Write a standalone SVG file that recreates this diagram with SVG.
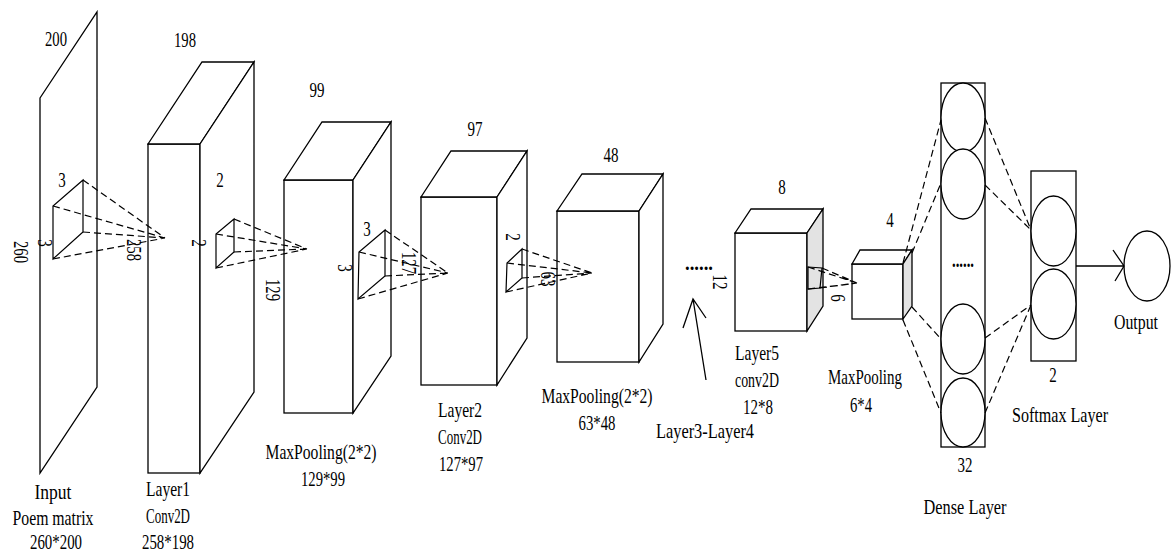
<svg xmlns="http://www.w3.org/2000/svg" width="1172" height="554" viewBox="0 0 1172 554">
<style>
.s{fill:#fff;stroke:#000;stroke-width:1.3;stroke-linejoin:miter}
.g{fill:#e3e3e3;stroke:#000;stroke-width:1.3}
.k{fill:none;stroke:#000;stroke-width:1.2}
.d{fill:none;stroke:#000;stroke-width:1.2;stroke-dasharray:7 4}
.l{fill:none;stroke:#000;stroke-width:1.3}
text{font-family:"Liberation Serif","DejaVu Serif",serif;font-size:22px;fill:#000;text-anchor:middle}
</style>
<rect width="1172" height="554" fill="#fff"/>

<g id="input">
<polygon class="s" points="40,98 97,12 97,387 40,473"/>
<text x="56" y="46" textLength="22" lengthAdjust="spacingAndGlyphs">200</text>
<text transform="translate(21,252) rotate(90)" x="0" y="7" textLength="22" lengthAdjust="spacingAndGlyphs">260</text>
<text x="53" y="499" textLength="37" lengthAdjust="spacingAndGlyphs">Input</text>
<text x="53" y="525" textLength="81" lengthAdjust="spacingAndGlyphs">Poem matrix</text>
<text x="56" y="549" textLength="52" lengthAdjust="spacingAndGlyphs">260*200</text>
</g>

<g id="layer1">
<rect class="s" x="148" y="144" width="52" height="329"/>
<polygon class="s" points="148,144 202,62 254,62 200,144"/>
<polygon class="s" points="200,144 254,62 254,392 200,473"/>
<text x="185" y="47" textLength="22" lengthAdjust="spacingAndGlyphs">198</text>
<text x="168" y="496" textLength="44" lengthAdjust="spacingAndGlyphs">Layer1</text>
<text x="168" y="523" textLength="44" lengthAdjust="spacingAndGlyphs">Conv2D</text>
<text x="168" y="549" textLength="52" lengthAdjust="spacingAndGlyphs">258*198</text>
</g>

<g id="maxpool1">
<rect class="s" x="284" y="180" width="69" height="233"/>
<polygon class="s" points="284,180 322,122 391,122 353,180"/>
<polygon class="s" points="353,180 391,122 391,356 353,413"/>
<text x="317" y="97" textLength="15" lengthAdjust="spacingAndGlyphs">99</text>
<text x="321" y="459" textLength="111" lengthAdjust="spacingAndGlyphs">MaxPooling(2*2)</text>
<text x="323" y="486" textLength="44" lengthAdjust="spacingAndGlyphs">129*99</text>
</g>

<g id="layer2">
<rect class="s" x="421" y="197" width="76" height="188"/>
<polygon class="s" points="421,197 451,151 527,151 497,197"/>
<polygon class="s" points="497,197 527,151 527,338 497,385"/>
<text x="475" y="136" textLength="15" lengthAdjust="spacingAndGlyphs">97</text>
<text x="460" y="417" textLength="44" lengthAdjust="spacingAndGlyphs">Layer2</text>
<text x="460" y="444" textLength="44" lengthAdjust="spacingAndGlyphs">Conv2D</text>
<text x="461" y="471" textLength="44" lengthAdjust="spacingAndGlyphs">127*97</text>
</g>

<g id="maxpool2">
<rect class="s" x="557" y="211" width="82" height="151"/>
<polygon class="s" points="557,211 582,174 663,174 639,211"/>
<polygon class="s" points="639,211 663,174 663,324 639,362"/>
<text x="611" y="162" textLength="15" lengthAdjust="spacingAndGlyphs">48</text>
<text x="597" y="403" textLength="111" lengthAdjust="spacingAndGlyphs">MaxPooling(2*2)</text>
<text x="597" y="430" textLength="37" lengthAdjust="spacingAndGlyphs">63*48</text>
</g>

<g id="layer34">
<text x="699" y="270" font-weight="bold" textLength="28" lengthAdjust="spacingAndGlyphs">......</text>
<text x="705" y="438" textLength="98" lengthAdjust="spacingAndGlyphs">Layer3-Layer4</text>
</g>

<g id="layer5">
<rect class="s" x="735" y="233" width="72" height="98"/>
<polygon class="s" points="735,233 751,209 823,209 807,233"/>
<polygon class="g" points="807,233 823,209 823,306 807,331"/>
<text x="782" y="194" textLength="7.5" lengthAdjust="spacingAndGlyphs">8</text>
<text transform="translate(720,282) rotate(90)" x="0" y="7" textLength="15" lengthAdjust="spacingAndGlyphs">12</text>
<text x="757" y="360" textLength="44" lengthAdjust="spacingAndGlyphs">Layer5</text>
<text x="757" y="387" textLength="44" lengthAdjust="spacingAndGlyphs">conv2D</text>
<text x="758" y="414" textLength="30" lengthAdjust="spacingAndGlyphs">12*8</text>
</g>

<g id="maxpool3">
<rect class="s" x="852" y="264" width="51" height="55"/>
<polygon class="s" points="852,264 860,250 912,250 903,264"/>
<polygon class="g" points="903,264 912,250 912,306 903,319"/>
<text x="890" y="227" textLength="7.5" lengthAdjust="spacingAndGlyphs">4</text>
<text x="865" y="384" textLength="74" lengthAdjust="spacingAndGlyphs">MaxPooling</text>
<text x="861" y="412" textLength="22" lengthAdjust="spacingAndGlyphs">6*4</text>
</g>

<g id="dense">
<rect class="s" x="941" y="83" width="44" height="364"/>
<ellipse class="s" cx="963" cy="117.5" rx="22" ry="34.5"/>
<ellipse class="s" cx="963" cy="184" rx="22" ry="35"/>
<ellipse class="s" cx="963" cy="339" rx="22" ry="35"/>
<ellipse class="s" cx="963" cy="412.5" rx="22" ry="34.5"/>
<text x="963" y="267" font-weight="bold" textLength="22" lengthAdjust="spacingAndGlyphs">......</text>
<text x="965" y="472" textLength="15" lengthAdjust="spacingAndGlyphs">32</text>
<text x="965" y="514" textLength="83" lengthAdjust="spacingAndGlyphs">Dense Layer</text>
</g>

<g id="softmax">
<rect class="s" x="1031" y="171" width="45" height="190"/>
<ellipse class="s" cx="1053.5" cy="231" rx="22.5" ry="35"/>
<ellipse class="s" cx="1053.5" cy="304" rx="22.5" ry="35"/>
<text x="1053" y="382" textLength="7.5" lengthAdjust="spacingAndGlyphs">2</text>
<text x="1060" y="422" textLength="96" lengthAdjust="spacingAndGlyphs">Softmax Layer</text>
</g>

<g id="output">
<ellipse class="s" cx="1147" cy="266" rx="23" ry="35"/>
<text x="1136" y="329" font-size="19" textLength="44" lengthAdjust="spacingAndGlyphs">Output</text>
</g>

<g id="kernels">
<polygon class="k" points="83,180 53,206 53,259 83,232"/>
<text x="62" y="187" textLength="7.5" lengthAdjust="spacingAndGlyphs">3</text>
<text transform="translate(45,243) rotate(90)" x="0" y="7" textLength="7.5" lengthAdjust="spacingAndGlyphs">3</text>
<polygon class="k" points="234,219 216,234 216,268 234,252"/>
<text x="220" y="187" textLength="7.5" lengthAdjust="spacingAndGlyphs">2</text>
<text transform="translate(199,243) rotate(90)" x="0" y="7" textLength="7.5" lengthAdjust="spacingAndGlyphs">2</text>
<polygon class="k" points="385,230 359,252 358,299 385,276"/>
<text x="367" y="236" textLength="7.5" lengthAdjust="spacingAndGlyphs">3</text>
<text transform="translate(345,268) rotate(90)" x="0" y="7" textLength="7.5" lengthAdjust="spacingAndGlyphs">3</text>
<polygon class="k" points="522,249 507,263 506,292 522,278"/>
<text transform="translate(513,237) rotate(90)" x="0" y="7" textLength="7.5" lengthAdjust="spacingAndGlyphs">2</text>
<polygon class="k" points="808,267 822,268 820,288 808,289"/>
</g>

<g id="connectors">
<path class="d" d="M83,180L165,238M53,206L165,238M83,232L165,238M53,259L165,238"/>
<path class="d" d="M234,219L307,249M216,234L307,249M234,252L307,249M216,268L307,249"/>
<path class="d" d="M385,230L448,273M359,252L448,273M385,276L448,273M358,299L448,273"/>
<path class="d" d="M522,249L592,273M507,263L592,273M522,278L592,273M506,292L592,273"/>
<path class="d" d="M808,267L857,283M822,268L857,283M820,288L857,283M808,289L857,283"/>
<path class="d" d="M903,263L941,120M912,253L941,183M912,307L941,339M903,320L941,413"/>
<path class="d" d="M985,118L1031,230M985,185L1031,230M985,338L1031,305M985,413L1031,305"/>
<path class="l" d="M706,380L693,299M683,328L693,299L706,318"/>
<path class="l" d="M1076,266L1124,266M1113,250L1124,266L1115,281"/>
</g>

<g id="dimlabels">
<text transform="translate(134,250) rotate(90)" x="0" y="7" textLength="22" lengthAdjust="spacingAndGlyphs">258</text>
<text transform="translate(273,290) rotate(90)" x="0" y="7" textLength="22" lengthAdjust="spacingAndGlyphs">129</text>
<text transform="translate(409,263) rotate(90)" x="0" y="7" textLength="22" lengthAdjust="spacingAndGlyphs">127</text>
<text transform="translate(548,279) rotate(90)" x="0" y="7" textLength="15" lengthAdjust="spacingAndGlyphs">63</text>
<text transform="translate(838,298) rotate(90)" x="0" y="7" textLength="7.5" lengthAdjust="spacingAndGlyphs">6</text>
</g>
</svg>
